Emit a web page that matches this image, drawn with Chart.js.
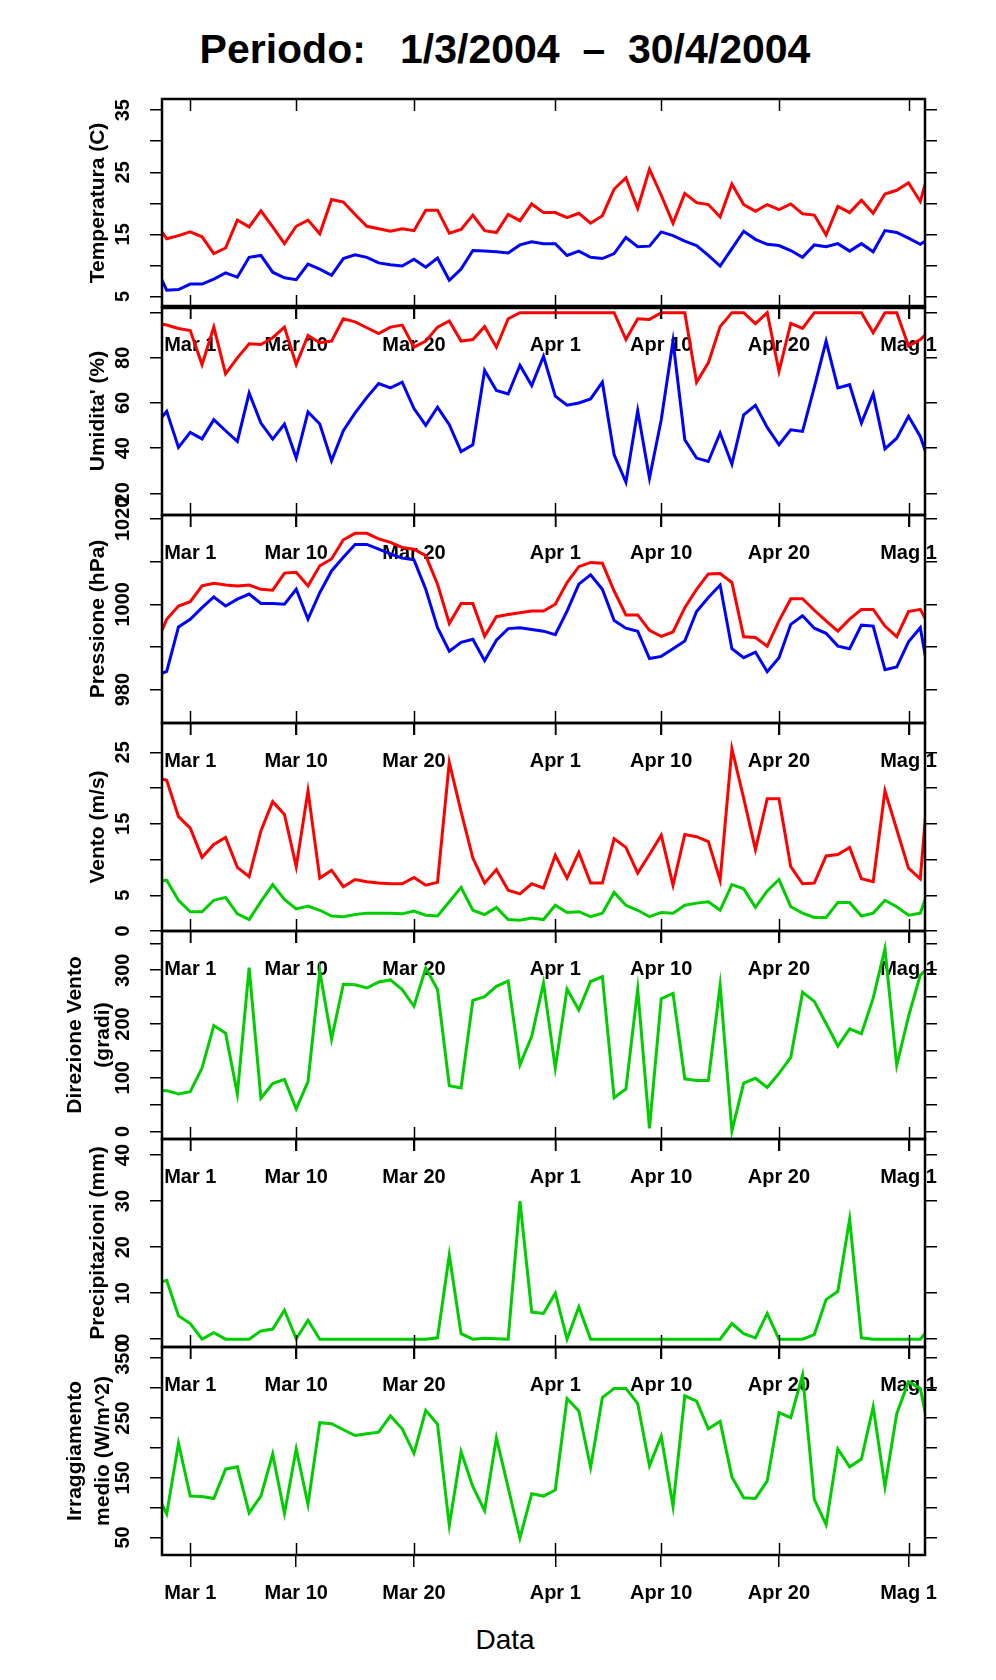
<!DOCTYPE html>
<html>
<head>
<meta charset="utf-8">
<title>Periodo 1/3/2004 - 30/4/2004</title>
<script src="https://cdn.jsdelivr.net/npm/chart.js@4.4.1/dist/chart.umd.min.js"></script>
<style>
  html, body { margin: 0; padding: 0; background: #fff; }
  #page { position: relative; width: 996px; height: 1680px; overflow: hidden;
          font-family: "Liberation Sans", Arial, Helvetica, sans-serif; color: #000; }
  #page canvas { position: absolute; left: 0; }
  #title { position: absolute; top: 29px; left: 0; width: 1010px; text-align: center;
           font-weight: bold; font-size: 41px; line-height: 41px; white-space: pre; }
  #xtitle { position: absolute; top: 1626px; left: 0; width: 1010px; text-align: center;
            font-size: 28px; line-height: 28px; }
</style>
</head>
<body>
<div id="page">
  <div id="title">Periodo:   1/3/2004  –  30/4/2004</div>
  <div id="xtitle">Data</div>
</div>
<script>
// Days counted from 1 March 2004 (the first and last ones fall outside the frame)
const days = [-3, -2, -1, 0, 1, 2, 3, 4, 5, 6,
  7, 8, 9, 10, 11, 12, 13, 14, 15, 16,
  17, 18, 19, 20, 21, 22, 23, 24, 25, 26,
  27, 28, 29, 30, 31, 32, 33, 34, 35, 36,
  37, 38, 39, 40, 41, 42, 43, 44, 45, 46,
  47, 48, 49, 50, 51, 52, 53, 54, 55, 56,
  57, 58, 59, 60, 61, 62, 63];

// Date axis
const dateTicks = [0, 9, 19, 31, 40, 50, 61];
const dateLabels = ['Mar 1', 'Mar 10', 'Mar 20', 'Apr 1', 'Apr 10', 'Apr 20', 'Mag 1'];

// Temperatura (C)
const tempMax = [17.0, 14.3, 14.8, 15.4, 14.6, 11.9, 12.8, 17.3, 16.2, 18.8,
  16.2, 13.5, 16.3, 17.3, 15.1, 20.6, 20.2, 18.2, 16.3, 15.9,
  15.5, 15.9, 15.6, 18.9, 18.9, 15.2, 15.8, 18.1, 15.6, 15.3,
  18.2, 17.2, 19.9, 18.5, 18.5, 17.7, 18.4, 16.8, 18.0, 22.3,
  24.1, 19.2, 25.5, 21.3, 16.8, 21.6, 20.1, 19.8, 17.8, 23.1,
  19.8, 18.7, 19.8, 19.0, 19.9, 18.3, 18.1, 14.9, 19.5, 18.5,
  20.5, 18.4, 21.5, 22.1, 23.3, 20.3, 27.0];
const tempMin = [10.0, 6.0, 6.1, 7.0, 7.0, 7.8, 8.8, 8.1, 11.3, 11.6,
  8.9, 8.0, 7.7, 10.2, 9.4, 8.4, 11.1, 11.7, 11.3, 10.4,
  10.1, 9.9, 11.0, 9.7, 11.2, 7.6, 9.4, 12.4, 12.3, 12.2,
  12.0, 13.3, 13.8, 13.5, 13.5, 11.6, 12.3, 11.3, 11.1, 11.9,
  14.5, 13.0, 13.1, 15.4, 14.8, 13.9, 13.2, 11.6, 9.9, 12.7,
  15.5, 14.2, 13.4, 13.2, 12.4, 11.3, 13.3, 13.0, 13.5, 12.3,
  13.5, 12.2, 15.6, 15.3, 14.4, 13.4, 14.6];

// Umidita' (%)
const humMax = [95.5, 94.5, 93.0, 92.1, 77.0, 93.6, 72.9, 80.0, 86.2, 85.9,
  88.9, 93.6, 77.0, 89.9, 86.7, 87.4, 97.3, 95.9, 93.3, 90.7,
  93.6, 94.5, 84.7, 87.4, 93.6, 96.3, 87.4, 88.1, 93.8, 84.7,
  97.3, 100, 100, 100, 100, 100, 100, 100, 100, 100,
  88.1, 97.3, 97.0, 100, 100, 100, 69.2, 77.8, 93.8, 100,
  100, 95.1, 100, 74.0, 95.3, 93.0, 100, 100, 100, 100,
  100, 91.1, 100, 100, 85.2, 88.1, 93.0];
const humMin = [49.8, 56.3, 40.3, 47.0, 44.1, 52.6, 47.7, 43.0, 64.4, 51.1,
  44.0, 50.7, 35.6, 56.0, 50.7, 34.4, 47.7, 55.6, 62.5, 68.6,
  66.7, 69.2, 57.5, 50.1, 58.1, 50.4, 38.5, 41.5, 74.4, 65.5,
  64.0, 76.7, 67.7, 80.7, 63.0, 59.0, 60.0, 61.8, 69.2, 37.0,
  24.9, 56.6, 26.7, 52.6, 87.4, 43.7, 35.6, 34.1, 46.7, 32.9,
  54.8, 59.0, 49.2, 41.5, 48.1, 47.4, 67.0, 87.4, 66.7, 68.1,
  51.1, 64.0, 39.7, 44.4, 54.1, 45.2, 30.0];

// Pressione (hPa)
const pressMax = [990.0, 996.5, 999.6, 1000.6, 1004.3, 1004.9, 1004.5, 1004.3, 1004.5, 1003.5,
  1003.3, 1007.3, 1007.5, 1004.3, 1009.0, 1010.6, 1015.1, 1016.6, 1016.6, 1015.3,
  1014.5, 1013.3, 1012.9, 1011.4, 1004.7, 995.5, 1000.2, 1000.2, 992.5, 997.1,
  997.6, 998.0, 998.4, 998.4, 1000.0, 1005.1, 1008.8, 1009.8, 1009.6, 1003.1,
  997.5, 997.5, 993.9, 992.5, 993.5, 999.2, 1003.5, 1007.1, 1007.2, 1005.1,
  992.4, 992.2, 990.2, 996.1, 1001.3, 1001.3, 998.6, 996.1, 993.7, 996.5,
  998.8, 998.8, 994.9, 992.4, 998.3, 998.8, 993.7];
const pressMin = [983.1, 984.3, 994.7, 996.5, 999.2, 1001.7, 999.6, 1001.2, 1002.4, 1000.2,
  1000.2, 1000.0, 1003.5, 996.5, 1002.7, 1007.8, 1011.0, 1014.0, 1014.0, 1012.9,
  1011.8, 1010.8, 1010.4, 1003.5, 994.5, 989.0, 991.1, 991.8, 986.8, 991.6,
  994.3, 994.5, 994.1, 993.7, 992.9, 998.4, 1004.7, 1006.9, 1003.5, 996.2,
  994.4, 993.7, 987.3, 987.8, 989.6, 991.4, 998.3, 1001.6, 1004.5, 989.6,
  987.5, 988.8, 984.2, 987.5, 995.3, 997.3, 994.4, 993.2, 990.2, 989.6,
  995.1, 994.9, 984.7, 985.3, 991.2, 994.5, 979.0];

// Vento (m/s): raffica e media
const windMax = [21.5, 21.1, 16.0, 14.4, 10.3, 12.1, 13.1, 8.9, 7.6, 14.0,
  18.1, 16.3, 9.0, 19.6, 7.4, 8.5, 6.2, 7.2, 6.9, 6.7,
  6.6, 6.6, 7.5, 6.4, 6.8, 23.6, 16.7, 10.2, 6.7, 8.6,
  5.7, 5.2, 6.6, 6.0, 10.6, 7.4, 11.0, 6.7, 6.7, 12.9,
  11.7, 8.1, 10.7, 13.4, 6.4, 13.5, 13.2, 12.5, 7.1, 25.5,
  18.6, 11.4, 18.5, 18.5, 9.0, 6.6, 6.7, 10.5, 10.7, 11.7,
  7.3, 6.9, 19.6, 14.2, 8.8, 7.3, 27.0];
const windAvg = [7.0, 7.1, 4.3, 2.7, 2.7, 4.3, 4.7, 2.4, 1.6, 4.1,
  6.5, 4.4, 3.1, 3.5, 2.9, 2.1, 2.0, 2.3, 2.5, 2.5,
  2.5, 2.4, 2.8, 2.2, 2.1, 4.1, 6.1, 2.9, 2.3, 3.3,
  1.6, 1.5, 1.8, 1.6, 3.6, 2.6, 2.7, 2.0, 2.5, 5.4,
  3.6, 2.9, 2.0, 2.6, 2.5, 3.6, 3.9, 4.1, 2.9, 6.5,
  5.9, 3.3, 5.6, 7.2, 3.4, 2.5, 1.9, 1.9, 4.0, 4.0,
  2.1, 2.5, 4.3, 3.4, 2.2, 2.5, 7.1];

// Direzione Vento (gradi)
const windDir = [77, 76, 70, 74, 118, 197, 183, 70, 305, 62,
  89, 97, 42, 93, 298, 172, 274, 273, 267, 278,
  282, 264, 233, 304, 264, 85, 81, 244, 251, 270,
  280, 124, 177, 276, 118, 265, 226, 279, 288, 63,
  79, 265, 6, 247, 257, 98, 95, 95, 272, 1,
  90, 99, 82, 108, 138, 259, 242, 201, 159, 191,
  182, 248, 340, 123, 214, 291, 310];

// Precipitazioni (mm)
const rain = [12.0, 12.8, 5.1, 3.4, 0, 1.4, 0, 0, 0, 1.8,
  2.2, 6.3, 0.1, 4.1, 0, 0, 0, 0, 0, 0,
  0, 0, 0, 0, 0.3, 18.3, 1.2, 0, 0.2, 0.1,
  0, 30.0, 5.9, 5.6, 10.0, 0, 7.0, 0, 0, 0,
  0, 0, 0, 0, 0, 0, 0, 0, 0, 3.4,
  1.2, 0.3, 5.6, 0, 0, 0, 1.0, 8.6, 10.4, 26.1,
  0.3, 0, 0, 0, 0, 0, 3.0];

// Irraggiamento medio (W/m^2)
const radiation = [129, 89.4, 207.7, 119.3, 118.7, 115.3, 164.3, 168.2, 91.1, 119.3,
  189.6, 90.0, 198.1, 105.2, 242.0, 240.3, 230.2, 220.6, 223.4, 226.2,
  253.3, 231.9, 190.8, 262.8, 239.2, 70.3, 193.6, 135.0, 95.0, 216.7,
  133.3, 48.9, 123.2, 119.3, 129.4, 282.5, 261.7, 167.1, 284.2, 299.4,
  299.4, 274.1, 169.9, 219.5, 102.4, 287.0, 278.0, 231.9, 244.3, 151.4,
  116.4, 115.3, 144.6, 258.9, 250.5, 322.0, 113.6, 71.4, 198.1, 168.2,
  181.2, 268.5, 135.0, 257.2, 310.7, 299.4, 203.6];

// Y tick marks and the ones that carry a label
const tempTicks = [5, 10, 15, 20, 25, 30, 35];
const tempLabels = [5, 15, 25, 35];
const humTicks = [20, 40, 60, 80, 100];
const humLabels = [20, 40, 60, 80];
const pressTicks = [980, 990, 1000, 1010, 1020];
const pressLabels = [980, 1000, 1020];
const windTicks = [0, 5, 10, 15, 20, 25];
const windLabels = [0, 5, 15, 25];
const dirTicks = [0, 50, 100, 150, 200, 250, 300, 350];
const dirLabels = [0, 100, 200, 300];
const rainTicks = [0, 10, 20, 30, 40];
const rainLabels = [0, 10, 20, 30, 40];
const radTicks = [50, 100, 150, 200, 250, 300, 350];
const radLabels = [50, 150, 250, 350];

const RED = '#ff0000';
const BLUE = '#0000ff';
const GREEN = '#00cd00';
const FAMILY = '"Liberation Sans", Arial, Helvetica, sans-serif';

const panels = [
  { title: 'Temperatura (C)', min: 3.3, max: 36.8, ticks: tempTicks, labels: tempLabels,
    series: [[tempMax, RED], [tempMin, BLUE]] },
  { title: "Umidita' (%)", min: 10.4, max: 102.5, ticks: humTicks, labels: humLabels,
    series: [[humMax, RED], [humMin, BLUE]] },
  { title: 'Pressione (hPa)', min: 972.2, max: 1020.9, ticks: pressTicks, labels: pressLabels,
    series: [[pressMax, RED], [pressMin, BLUE]] },
  { title: 'Vento (m/s)', min: 0, max: 29.1, ticks: windTicks, labels: windLabels,
    series: [[windMax, RED], [windAvg, GREEN]] },
  { title: ['Direzione Vento', '(gradi)'], min: -14, max: 373, ticks: dirTicks, labels: dirLabels,
    series: [[windDir, GREEN]] },
  { title: 'Precipitazioni (mm)', min: -1.7, max: 43.5, ticks: rainTicks, labels: rainLabels,
    series: [[rain, GREEN]] },
  { title: ['Irraggiamento', 'medio (W/m^2)'], min: 20.7, max: 368.7, ticks: radTicks, labels: radLabels,
    series: [[radiation, GREEN]] }
];

Chart.defaults.font.family = FAMILY;
Chart.defaults.color = '#000';

// Panel box, inward date ticks
const framePlugin = {
  id: 'frame',
  afterDraw(chart, args, opts) {
    const { ctx, chartArea: a } = chart;
    const x = chart.scales.x;
    ctx.save();
    ctx.strokeStyle = '#000';
    ctx.lineWidth = 1.5;
    dateTicks.forEach(d => {
      const px = Math.round(x.getPixelForValue(d)) + 0.5;
      ctx.beginPath();
      ctx.moveTo(px, a.bottom);
      ctx.lineTo(px, a.bottom - 12);
      ctx.moveTo(px, a.top);
      ctx.lineTo(px, a.top + 12);
      ctx.stroke();
    });
    ctx.lineWidth = 2.5;
    ctx.strokeRect(a.left, a.top, a.right - a.left, a.bottom - a.top);
    if (opts.thickBottom) {
      ctx.lineWidth = 4.5;
      ctx.beginPath();
      ctx.moveTo(a.left, a.bottom);
      ctx.lineTo(a.right, a.bottom);
      ctx.stroke();
    }
    ctx.restore();
  }
};

const measure = document.createElement('canvas').getContext('2d');
const tickFont = { size: 20, weight: 'bold', family: FAMILY };
function widest(labels) {
  measure.font = 'bold 20px ' + FAMILY;
  return Math.max(...labels.map(l => measure.measureText(String(l)).width));
}

const page = document.getElementById('page');
const TOP = 99, H = 208, ABOVE = 60, BELOW = 70;

panels.forEach((p, i) => {
  const panelTop = TOP + i * H;
  const last = i === panels.length - 1;
  const below = last ? 1680 - (panelTop + H) : BELOW;
  const twoLines = Array.isArray(p.title);

  const canvas = document.createElement('canvas');
  canvas.width = 996;
  canvas.height = ABOVE + H + below;
  canvas.style.width = '996px';
  canvas.style.height = canvas.height + 'px';
  canvas.style.top = (panelTop - ABOVE) + 'px';
  page.appendChild(canvas);

  const setTicks = list => scale => { scale.ticks = list.map(v => ({ value: v })); };

  new Chart(canvas, {
    type: 'line',
    data: {
      datasets: p.series.map(([vals, color]) => ({
        data: days.map((d, k) => ({ x: d, y: vals[k] })),
        borderColor: color,
        borderWidth: 3,
        pointRadius: 0,
        tension: 0,
        fill: false,
        clip: 0,
        yAxisID: 'y'
      }))
    },
    options: {
      responsive: false,
      maintainAspectRatio: false,
      animation: false,
      layout: { padding: { top: ABOVE, bottom: 0, left: 0, right: 0 } },
      plugins: {
        legend: { display: false },
        tooltip: { enabled: false },
        frame: { thickBottom: i === 0 }
      },
      scales: {
        x: {
          type: 'linear',
          position: 'bottom',
          bounds: 'data',
          min: -2.4,
          max: 62.4,
          afterBuildTicks: setTicks(dateTicks),
          afterFit: s => { s.height = below; },
          ticks: {
            autoSkip: false, minRotation: 0, maxRotation: 0, padding: 14,
            color: '#000', font: { size: 20, weight: 'bold' },
            callback: v => { const k = dateTicks.indexOf(v); return k >= 0 ? dateLabels[k] : ''; }
          },
          grid: { drawOnChartArea: false, drawTicks: true, tickLength: 12, color: '#000', lineWidth: 1.5 },
          border: { display: false }
        },
        y: {
          type: 'linear',
          position: 'left',
          bounds: 'data',
          min: p.min,
          max: p.max,
          afterBuildTicks: setTicks(p.ticks),
          afterFit: s => { s.width = 162; },
          ticks: {
            autoSkip: false, minRotation: 90, maxRotation: 90, crossAlign: 'center',
            padding: Math.max(0, 27 - widest(p.labels) / 2),
            color: '#000', font: tickFont,
            callback: v => p.labels.includes(v) ? String(v) : ''
          },
          grid: { drawOnChartArea: false, drawTicks: true, tickLength: 12, color: '#000', lineWidth: 1.5 },
          border: { display: false },
          title: {
            display: true,
            text: p.title,
            color: '#000',
            font: { size: 21, weight: 'bold', lineHeight: 1.3 },
            padding: { top: twoLines ? 62 : 85, bottom: 0 }
          }
        },
        y2: {
          type: 'linear',
          axis: 'y',
          position: 'right',
          bounds: 'data',
          min: p.min,
          max: p.max,
          afterBuildTicks: setTicks(p.ticks),
          afterFit: s => { s.width = 71; },
          ticks: { display: false },
          grid: { drawOnChartArea: false, drawTicks: true, tickLength: 12, color: '#000', lineWidth: 1.5 },
          border: { display: false }
        }
      }
    },
    plugins: [framePlugin]
  });
});
</script>
</body>
</html>
